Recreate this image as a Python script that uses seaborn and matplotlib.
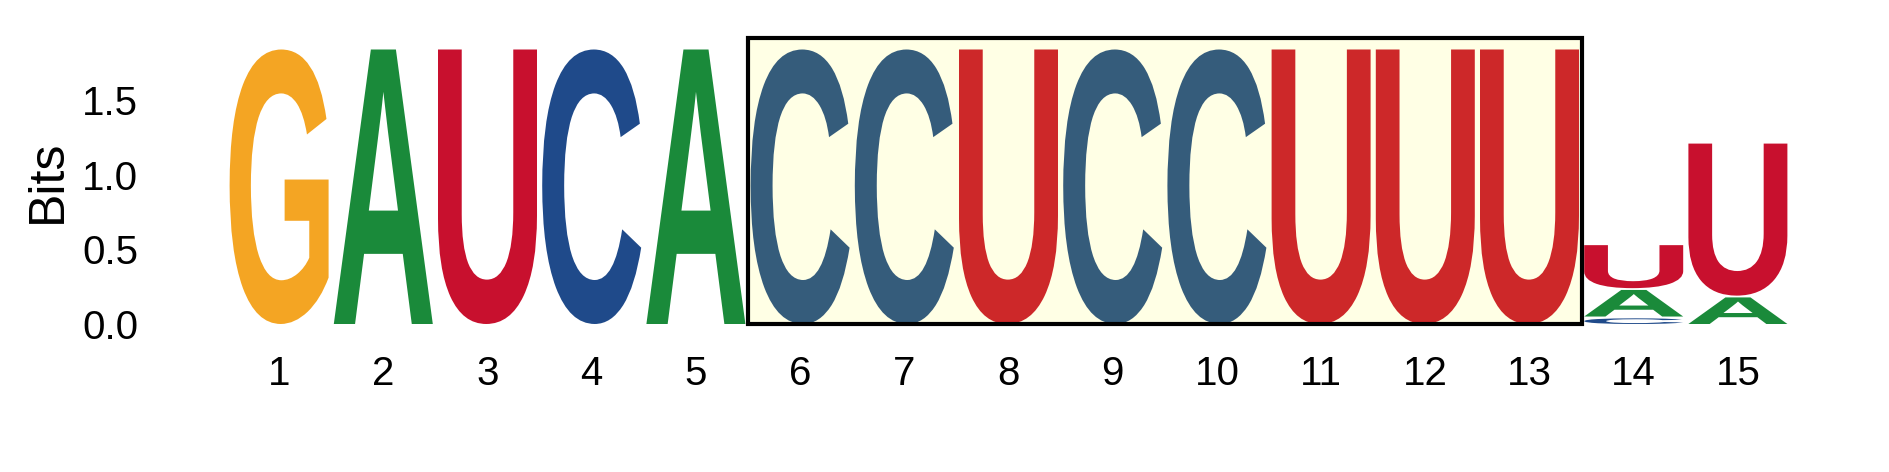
import numpy as np
import pandas as pd
import matplotlib
matplotlib.use('Agg')
import matplotlib.pyplot as plt
import seaborn as sns
from matplotlib.textpath import TextPath
from matplotlib.font_manager import FontProperties
from matplotlib.patches import PathPatch, Rectangle
from matplotlib.transforms import Affine2D

# information content (bits) per position, one array per base
positions = list(range(1, 16))
bits_A = [0, 1.85, 0, 0, 1.85, 0, 0, 0, 0, 0, 0, 0, 0, 0.19, 0.19]
bits_C = [0, 0, 0, 1.85, 0, 1.85, 1.85, 0, 1.85, 1.85, 0, 0, 0, 0.05, 0]
bits_G = [1.85, 0, 0, 0, 0, 0, 0, 0, 0, 0, 0, 0, 0, 0, 0]
bits_U = [0, 0, 1.85, 0, 0, 0, 0, 1.85, 0, 0, 1.85, 1.85, 1.85, 0.30, 1.03]
highlight = (6, 13)
ytick_vals = [0.0, 0.5, 1.0, 1.5]

colors = {'A': '#1a8a3a', 'C': '#1f4a8a', 'G': '#f4a523', 'U': '#c8102e'}

df = pd.DataFrame({'A': bits_A, 'C': bits_C, 'G': bits_G, 'U': bits_U}, index=positions)

sns.set_style('white')
plt.rcParams['font.family'] = ['Liberation Sans', 'DejaVu Sans']
plt.rcParams['text.color'] = 'black'
plt.rcParams['axes.labelcolor'] = 'black'
plt.rcParams['xtick.color'] = 'black'
plt.rcParams['ytick.color'] = 'black'

fig = plt.figure(figsize=(18.89, 4.72), dpi=100)
ax = fig.add_axes([227 / 1889, 1 - 324 / 472, 1563 / 1889, 286 / 472])

glyph_font = FontProperties(family='Liberation Sans', weight='bold')


def draw_letter(ax, ch, x, y0, h, width=0.95, color='k'):
    tp = TextPath((0, 0), ch, size=1, prop=glyph_font)
    bb = tp.get_extents()
    tr = (Affine2D().translate(-bb.x0, -bb.y0)
          .scale(width / bb.width, h / bb.height)
          .translate(x - width / 2, y0))
    ax.add_patch(PathPatch(tr.transform_path(tp), facecolor=color,
                           edgecolor='none', lw=0, zorder=2))


gap = 0.012
for pos, row in df.iterrows():
    y = 0.0
    for base, h in row.sort_values().items():
        if h <= 0:
            continue
        draw_letter(ax, base, pos, y, h - gap, color=colors[base])
        y += h

ymax = 1.915
ax.set_xlim(0.5, 15.5)
ax.set_ylim(0, ymax)

# highlighted range
ax.add_patch(Rectangle((highlight[0] - 0.5, 0), highlight[1] - highlight[0] + 1, ymax,
                       facecolor=(1, 1, 0, 0.1), edgecolor='black', lw=3,
                       zorder=3, clip_on=False))

ax.set_xticks(positions)
ax.set_xticklabels([str(p) for p in positions], fontsize=29)
ax.set_yticks(ytick_vals)
ax.set_yticklabels([f'{v:.1f}' for v in ytick_vals], fontsize=29)
ax.tick_params(axis='x', length=0, pad=22)
ax.tick_params(axis='y', length=0, pad=64)
ax.set_ylabel('Bits', fontsize=36)
ax.yaxis.set_label_coords(-0.1, 0.5)
sns.despine(ax=ax, left=True, bottom=True)
ax.grid(False)

fig.savefig('out.png', dpi=100)
